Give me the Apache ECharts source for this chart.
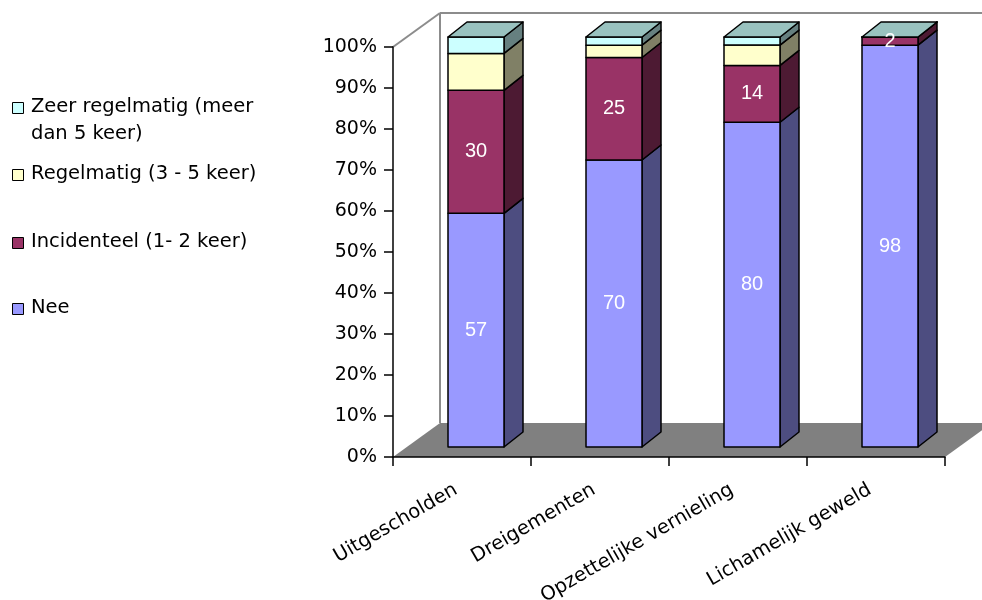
<!DOCTYPE html>
<html>
<head>
    <meta charset="UTF-8">
    <title>Geweld</title>
    <script src="https://cdn.jsdelivr.net/npm/echarts@6/dist/echarts.min.js"></script>
    <style>
        html, body { margin: 0; padding: 0; background: #fff; }
        #chart { width: 982px; height: 600px; }
    </style>
</head>
<body>
<div id="chart"></div>
<script>
    // data
    var categories = ['Uitgescholden', 'Dreigementen', 'Opzettelijke vernieling', 'Lichamelijk geweld'];
    var seriesNames = ['Nee', 'Incidenteel (1- 2 keer)', 'Regelmatig (3 - 5 keer)', 'Zeer regelmatig (meer\ndan 5 keer)'];
    var nee = [57, 70, 80, 98];
    var incidenteel = [30, 25, 14, 2];
    var regelmatig = [9, 3, 5, 0];
    var zeerRegelmatig = [4, 2, 2, 0];
    var yTicks = [0, 10, 20, 30, 40, 50, 60, 70, 80, 90, 100];

    var stacks = [nee, incidenteel, regelmatig, zeerRegelmatig];
    var frontColors = ['#9999FF', '#993366', '#FFFFCC', '#CCFFFF'];
    var sideColors = ['#4D4D80', '#4D1A33', '#808066', '#668080'];
    var topColor = '#99C2BF';
    var showLabel = [true, true, false, false];

    var FONT = '"DejaVu Sans", Verdana, sans-serif';
    var LABEL_FONT = '"Liberation Sans", Arial, sans-serif';
    // 3d offsets (px)
    var FRONT_DX = 14, FRONT_DY = -10, HALF_W = 28, DEP_X = 19, DEP_Y = -15;
    var WALL_DX = 47, WALL_DY = -34;

    function total(i) {
        var t = 0;
        for (var k = 0; k < stacks.length; k++) t += stacks[k][i];
        return t;
    }

    function segmentRenderer(s) {
        return function (params, api) {
            var i = api.value(0);
            var t = total(i);
            var base = 0;
            for (var k = 0; k < s; k++) base += stacks[k][i];
            var lo = base / t * 100;
            var hi = (base + stacks[s][i]) / t * 100;
            var c0 = api.coord([i, lo]);
            var c1 = api.coord([i, hi]);
            var cx = c0[0] + FRONT_DX;
            var x0 = cx - HALF_W, x1 = cx + HALF_W;
            var yb = c0[1] + FRONT_DY, yt = c1[1] + FRONT_DY;
            var border = {stroke: '#000', lineWidth: 1.5, lineJoin: 'round'};
            var kids = [];
            kids.push({
                type: 'polygon',
                shape: {points: [[x1, yb], [x1 + DEP_X, yb + DEP_Y], [x1 + DEP_X, yt + DEP_Y], [x1, yt]]},
                style: Object.assign({fill: sideColors[s]}, border)
            });
            kids.push({
                type: 'polygon',
                shape: {points: [[x0, yb], [x1, yb], [x1, yt], [x0, yt]]},
                style: Object.assign({fill: frontColors[s]}, border)
            });
            if (s === stacks.length - 1) {
                kids.push({
                    type: 'polygon',
                    shape: {points: [[x0, yt], [x1, yt], [x1 + DEP_X, yt + DEP_Y], [x0 + DEP_X, yt + DEP_Y]]},
                    style: Object.assign({fill: topColor}, border)
                });
            }
            if (showLabel[s] && stacks[s][i] > 0) {
                kids.push({
                    type: 'text',
                    z2: 10,
                    style: {
                        x: cx, y: (yb + yt) / 2,
                        text: String(stacks[s][i]),
                        fill: '#fff', font: '20px ' + LABEL_FONT,
                        align: 'center', verticalAlign: 'middle'
                    }
                });
            }
            return {type: 'group', children: kids};
        };
    }

    function wallRenderer(params, api) {
        var band = api.size([1, 0])[0];
        var a = api.coord([0, 0]);
        var b = api.coord([categories.length - 1, 0]);
        var top = api.coord([0, 100]);
        var xl = a[0] - band / 2, xr = b[0] + band / 2;
        var y0 = a[1], y1 = top[1];
        var wall = {stroke: '#8C8C8C', lineWidth: 2};
        return {
            type: 'group',
            children: [
                {type: 'polygon', shape: {points: [[xl, y0], [xr, y0], [xr + WALL_DX, y0 + WALL_DY], [xl + WALL_DX, y0 + WALL_DY]]},
                    style: {fill: '#808080'}},
                {type: 'line', shape: {x1: xl, y1: y1, x2: xl + WALL_DX, y2: y1 + WALL_DY}, style: wall},
                {type: 'line', shape: {x1: xl + WALL_DX, y1: y1 + WALL_DY, x2: xl + WALL_DX, y2: y0 + WALL_DY}, style: wall},
                {type: 'line', shape: {x1: xl + WALL_DX, y1: y1 + WALL_DY, x2: xr + WALL_DX + 10, y2: y1 + WALL_DY}, style: wall}
            ]
        };
    }

    var series = [{
        type: 'custom',
        silent: true,
        z: 1,
        renderItem: wallRenderer,
        data: [[0, 0]]
    }];
    for (var s = 0; s < stacks.length; s++) {
        series.push({
            type: 'custom',
            name: seriesNames[s],
            z: 2,
            renderItem: segmentRenderer(s),
            data: stacks[s].map(function (v, i) { return [i, v]; })
        });
    }

    // legend drawn as graphic to match spacing
    var legendItems = [
        {name: seriesNames[3], color: frontColors[3], y: 107},
        {name: seriesNames[2], color: frontColors[2], y: 174},
        {name: seriesNames[1], color: frontColors[1], y: 242},
        {name: seriesNames[0], color: frontColors[0], y: 308}
    ];
    var graphics = [];
    legendItems.forEach(function (it) {
        graphics.push({
            type: 'rect', x: 12.5, y: it.y - 4.5,
            shape: {width: 11, height: 11},
            style: {fill: it.color, stroke: '#000', lineWidth: 1}
        });
        it.name.split('\n').forEach(function (line, j) {
            graphics.push({
                type: 'text', x: 31, y: it.y + j * 27,
                style: {text: line, font: '19.5px ' + FONT, fill: '#000', verticalAlign: 'middle'}
            });
        });
    });

    var chart = echarts.init(document.getElementById('chart'), null, {renderer: 'canvas'});
    chart.setOption({
        animation: false,
        backgroundColor: '#fff',
        grid: {left: 393, right: 37, top: 47, bottom: 143, outerBoundsMode: 'none', containLabel: false},
        xAxis: {
            type: 'category',
            data: categories,
            boundaryGap: true,
            axisLine: {lineStyle: {color: '#000', width: 1.5}},
            axisTick: {show: true, length: 9, lineStyle: {color: '#000', width: 1.5}},
            axisLabel: {rotate: 30, margin: 28, padding: [0, 7, 0, 0], color: '#000', fontSize: 19.5, fontFamily: 'DejaVu Sans'},
            splitLine: {show: false},
            z: 5
        },
        yAxis: {
            type: 'value',
            min: yTicks[0],
            max: yTicks[yTicks.length - 1],
            interval: 10,
            axisLine: {show: true, lineStyle: {color: '#000', width: 1.5}},
            axisTick: {show: true, length: 9, lineStyle: {color: '#000', width: 1.5}},
            axisLabel: {formatter: '{value}%', margin: 16, color: '#000', fontSize: 19, fontFamily: 'DejaVu Sans'},
            splitLine: {show: false},
            z: 5
        },
        graphic: graphics,
        series: series
    });
</script>
</body>
</html>
